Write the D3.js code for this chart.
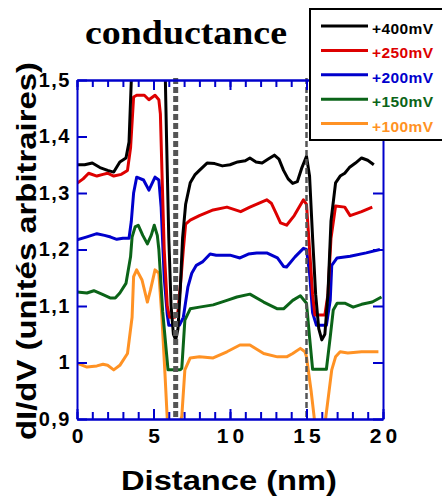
<!DOCTYPE html>
<html>
<head>
<meta charset="utf-8">
<script src="https://cdn.jsdelivr.net/npm/d3@7"></script>
<style>
  body { margin: 0; background: #fff; }
  svg text { font-family: "Liberation Sans", Arial, sans-serif; font-weight: bold; }
</style>
</head>
<body>
<div id="graph"></div>
<script>
// curves: distance (nm) and dI/dV (a.u.) per bias
var dist400 = [0, 0.5, 1.0, 1.5, 2.0, 2.4, 2.8, 3.2, 3.4, 3.55, 3.65, 5.7, 5.85, 6.0, 6.15, 6.3, 6.45, 6.6, 6.75, 6.9, 7.1, 7.4, 7.7, 8.0, 8.5, 9.0, 9.5, 10.0, 10.5, 11.0, 11.3, 11.7, 12.1, 12.5, 12.9, 13.2, 13.5, 13.8, 14.1, 14.4, 14.7, 15.0, 15.2, 15.4, 15.6, 15.8, 16.0, 16.2, 16.4, 16.6, 16.9, 17.2, 17.5, 17.8, 18.2, 18.6, 19.0, 19.4];
var g400 = [1.350, 1.350, 1.353, 1.345, 1.340, 1.337, 1.355, 1.362, 1.390, 1.500, 1.600, 1.600, 1.400, 1.220, 1.100, 1.050, 1.040, 1.060, 1.130, 1.220, 1.280, 1.318, 1.332, 1.340, 1.353, 1.352, 1.348, 1.350, 1.355, 1.357, 1.362, 1.355, 1.353, 1.360, 1.367, 1.360, 1.340, 1.325, 1.317, 1.320, 1.345, 1.365, 1.330, 1.220, 1.120, 1.060, 1.040, 1.050, 1.120, 1.250, 1.318, 1.330, 1.335, 1.345, 1.353, 1.362, 1.358, 1.350];

var dist250 = [0, 0.4, 0.76, 1.3, 1.7, 2.0, 2.4, 2.9, 3.3, 3.5, 3.7, 3.9, 4.4, 4.7, 5.1, 5.35, 5.45, 5.55, 5.7, 5.9, 6.05, 6.4, 6.6, 6.8, 6.95, 7.1, 7.4, 8.0, 8.9, 9.8, 10.7, 11.3, 12.4, 12.7, 13.0, 13.3, 13.7, 14.2, 14.8, 15.0, 15.2, 15.4, 15.55, 16.2, 16.4, 16.6, 16.9, 17.5, 17.85, 18.6, 19.3];
var g250 = [1.317, 1.325, 1.335, 1.330, 1.333, 1.335, 1.330, 1.333, 1.340, 1.380, 1.470, 1.473, 1.473, 1.465, 1.473, 1.465, 1.440, 1.340, 1.200, 1.100, 1.080, 1.080, 1.090, 1.150, 1.200, 1.245, 1.252, 1.260, 1.270, 1.275, 1.267, 1.275, 1.288, 1.282, 1.265, 1.247, 1.243, 1.260, 1.288, 1.280, 1.200, 1.120, 1.084, 1.084, 1.120, 1.220, 1.277, 1.275, 1.260, 1.267, 1.275];

var dist200 = [0, 0.6, 1.3, 1.8, 2.2, 2.6, 3.0, 3.4, 3.55, 3.7, 3.9, 4.35, 4.7, 5.1, 5.35, 5.5, 5.7, 5.9, 6.0, 6.7, 6.95, 7.25, 7.5, 7.8, 8.2, 8.7, 9.1, 10.0, 10.65, 11.2, 11.75, 12.4, 13.1, 13.5, 13.7, 14.25, 14.8, 15.0, 15.2, 15.4, 15.65, 16.3, 16.55, 16.65, 17.0, 17.85, 18.9, 19.8];
var g200 = [1.217, 1.222, 1.228, 1.225, 1.222, 1.218, 1.220, 1.220, 1.250, 1.300, 1.328, 1.323, 1.305, 1.328, 1.323, 1.275, 1.150, 1.085, 1.066, 1.066, 1.080, 1.134, 1.158, 1.172, 1.178, 1.192, 1.190, 1.190, 1.185, 1.192, 1.194, 1.194, 1.185, 1.170, 1.169, 1.187, 1.202, 1.200, 1.158, 1.088, 1.066, 1.066, 1.110, 1.172, 1.185, 1.188, 1.194, 1.200];

var dist150 = [0, 0.65, 1.1, 1.7, 2.2, 2.5, 2.8, 3.2, 3.5, 3.6, 3.8, 4.0, 4.3, 4.6, 4.85, 5.05, 5.25, 5.35, 5.6, 5.95, 6.75, 6.85, 7.05, 7.4, 8.0, 8.9, 9.8, 10.45, 11.3, 12.2, 13.1, 13.5, 14.1, 14.6, 15.0, 15.2, 15.4, 16.3, 16.55, 16.75, 17.0, 17.5, 18.05, 18.6, 19.3, 19.9];
var g150 = [1.125, 1.123, 1.127, 1.120, 1.114, 1.114, 1.123, 1.140, 1.187, 1.222, 1.240, 1.243, 1.225, 1.210, 1.225, 1.243, 1.225, 1.200, 1.090, 0.987, 0.987, 0.990, 1.075, 1.095, 1.098, 1.102, 1.110, 1.116, 1.121, 1.107, 1.095, 1.095, 1.110, 1.118, 1.105, 1.045, 0.988, 0.988, 1.045, 1.093, 1.105, 1.105, 1.098, 1.103, 1.107, 1.116];

var dist100 = [0, 0.65, 1.3, 1.7, 2.0, 2.4, 2.8, 3.3, 3.6, 3.7, 3.9, 4.25, 4.6, 4.8, 5.1, 5.35, 5.55, 5.75, 5.9, 6.3, 6.85, 7.05, 7.4, 8.0, 8.9, 9.8, 10.65, 11.3, 12.2, 13.1, 13.7, 14.1, 14.6, 14.9, 15.0, 15.3, 15.6, 15.9, 16.2, 16.65, 16.9, 17.2, 17.7, 18.6, 19.7];
var g100 = [0.999, 0.992, 0.994, 0.997, 0.995, 0.987, 0.995, 1.016, 1.080, 1.152, 1.164, 1.146, 1.107, 1.128, 1.164, 1.158, 1.080, 0.980, 0.900, 0.850, 0.905, 0.987, 1.008, 1.010, 1.008, 1.019, 1.031, 1.031, 1.016, 1.010, 1.010, 1.016, 1.025, 1.019, 1.010, 0.950, 0.880, 0.850, 0.890, 0.987, 1.010, 1.019, 1.017, 1.019, 1.019];

var biases = ["+400mV", "+250mV", "+200mV", "+150mV", "+100mV"];
var colors = ["#000000", "#dd0000", "#0000cc", "#0b6418", "#ff9224"];
var xTicks = [0, 5, 10, 15, 20];
var yTicks = [0.9, 1.0, 1.1, 1.2, 1.3, 1.4, 1.5];
var dashedAt = [6.45, 15.0];

var w = 442, h = 499;
var margin = {top: 80, left: 77, right: 59, bottom: 80};
var pw = w - margin.left - margin.right;   // 306
var ph = h - margin.top - margin.bottom;   // 339

var series = [
  {name: biases[0], color: colors[0], xs: dist400, ys: g400},
  {name: biases[1], color: colors[1], xs: dist250, ys: g250},
  {name: biases[2], color: colors[2], xs: dist200, ys: g200},
  {name: biases[3], color: colors[3], xs: dist150, ys: g150},
  {name: biases[4], color: colors[4], xs: dist100, ys: g100}
];

var x = d3.scaleLinear().domain([0, 20]).range([0, pw]);
var y = d3.scaleLinear().domain([0.9, 1.5]).range([ph, 0]);

var svg = d3.select("#graph").append("svg")
  .attr("width", w)
  .attr("height", h);

var g = svg.append("g")
  .attr("transform", "translate(" + margin.left + "," + margin.top + ")");

g.append("clipPath").attr("id", "plotclip")
  .append("rect").attr("width", pw).attr("height", ph);

var line = d3.line()
  .x(function(d) { return x(d[0]); })
  .y(function(d) { return y(d[1]); });

// curves, orange at the back, black on top
var curves = g.append("g").attr("clip-path", "url(#plotclip)");
series.slice().reverse().forEach(function(s) {
  curves.append("path")
    .datum(s.xs.map(function(v, i) { return [v, s.ys[i]]; }))
    .attr("fill", "none")
    .attr("stroke", s.color)
    .attr("stroke-width", 3)
    .attr("stroke-linejoin", "round")
    .attr("d", line);
});

// grey dashed markers
g.selectAll(".marker")
  .data(dashedAt)
  .enter().append("line")
  .attr("class", "marker")
  .attr("x1", function(d) { return x(d); })
  .attr("x2", function(d) { return x(d); })
  .attr("y1", -2)
  .attr("y2", ph)
  .attr("stroke", "#555")
  .attr("stroke-width", function(d, i) { return i == 0 ? 5 : 2.5; })
  .attr("stroke-dasharray", "6,3");

// frame + inward ticks (blue)
var axisCol = "#0000cc";
var minor = d3.range(0, 21, 1);
function styleAxis(sel) {
  sel.select(".domain").attr("stroke", axisCol).attr("stroke-width", 2);
  sel.selectAll(".tick line").attr("stroke", axisCol).attr("stroke-width", 2);
  sel.selectAll("text").attr("fill", "#000");
}

g.append("g").attr("transform", "translate(0," + ph + ")")
  .call(d3.axisBottom(x).tickValues(minor).tickSize(-7).tickSizeOuter(0).tickFormat(""))
  .call(styleAxis);
g.append("g").attr("transform", "translate(0," + ph + ")")
  .call(d3.axisBottom(x).tickValues(xTicks).tickSize(-10).tickSizeOuter(0).tickPadding(9)
    .tickFormat(d3.format("d")))
  .call(styleAxis)
  .call(function(a) {
    a.selectAll("text").attr("font-size", 21).attr("letter-spacing", 4).attr("dx", 2)
      .style("font-family", "'Liberation Sans', Arial, sans-serif");
  });

g.append("g")
  .call(d3.axisTop(x).tickValues(minor).tickSize(-7).tickSizeOuter(0).tickFormat(""))
  .call(styleAxis);
g.append("g")
  .call(d3.axisTop(x).tickValues(xTicks).tickSize(-10).tickSizeOuter(0).tickFormat(""))
  .call(styleAxis);

g.append("g")
  .call(d3.axisLeft(y).tickValues(yTicks).tickSize(-10).tickSizeOuter(0).tickPadding(6)
    .tickFormat(function(d) { return (Math.round(d * 10) / 10).toString().replace(".", ","); }))
  .call(styleAxis)
  .call(function(a) {
    a.selectAll("text").attr("font-size", 20).attr("letter-spacing", 1.5)
      .style("font-family", "'Liberation Sans', Arial, sans-serif");
  });

g.append("g").attr("transform", "translate(" + pw + ",0)")
  .call(d3.axisRight(y).tickValues(yTicks).tickSize(-10).tickSizeOuter(0).tickFormat(""))
  .call(styleAxis);

// axis titles
svg.append("text")
  .attr("x", margin.left + pw / 2 - 1)
  .attr("y", 490)
  .attr("text-anchor", "middle")
  .attr("font-size", 27)
  .attr("textLength", 216)
  .attr("lengthAdjust", "spacingAndGlyphs")
  .text("Distance (nm)");

svg.append("text")
  .attr("transform", "translate(36,251) rotate(-90)")
  .attr("text-anchor", "middle")
  .attr("font-size", 28)
  .attr("textLength", 378)
  .attr("lengthAdjust", "spacingAndGlyphs")
  .text("dI/dV (unités arbitraires)");

// title
svg.append("text")
  .attr("x", 186)
  .attr("y", 44)
  .attr("text-anchor", "middle")
  .attr("font-size", 34)
  .attr("textLength", 202)
  .attr("lengthAdjust", "spacingAndGlyphs")
  .style("font-family", "'Liberation Serif', 'Times New Roman', serif")
  .text("conductance");

// legend
var legend = svg.append("g").attr("transform", "translate(310,9)");
legend.append("rect")
  .attr("width", 140).attr("height", 131)
  .attr("fill", "#fff").attr("stroke", "#000").attr("stroke-width", 2);

var item = legend.selectAll(".item")
  .data(series)
  .enter().append("g")
  .attr("class", "item")
  .attr("transform", function(d, i) { return "translate(0," + (17 + i * 24.4) + ")"; });

item.append("line")
  .attr("x1", 11).attr("x2", 58)
  .attr("stroke", function(d) { return d.color; })
  .attr("stroke-width", 3);

item.append("text")
  .attr("x", 62)
  .attr("y", 8)
  .attr("font-size", 15.5)
  .attr("letter-spacing", 0.4)
  .attr("fill", function(d) { return d.color; })
  .text(function(d) { return d.name; });
</script>
</body>
</html>
